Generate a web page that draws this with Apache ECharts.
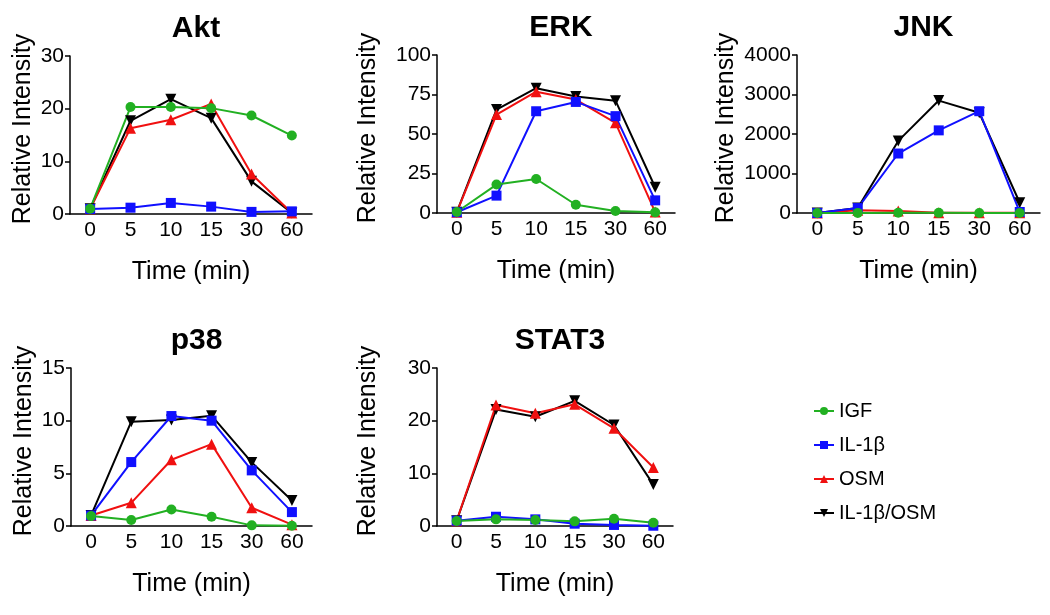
<!DOCTYPE html>
<html>
<head>
<meta charset="utf-8">
<script src="https://cdn.jsdelivr.net/npm/echarts@6/dist/echarts.min.js"></script>
<style>
  html, body { margin: 0; padding: 0; background: #fff; }
  #chart { width: 1050px; height: 615px; }
</style>
</head>
<body>
<div id="chart"></div>
<script>
// time points (min)
var times = ['0', '5', '10', '15', '30', '60'];
var seriesNames = ['IGF', 'IL-1β', 'OSM', 'IL-1β/OSM'];

// Akt
var aktIGF  = [1.0, 20.3, 20.3, 20.1, 18.7, 14.9];
var aktIL1b = [0.95, 1.2, 2.1, 1.4, 0.4, 0.5];
var aktOSM  = [1.0, 16.3, 17.9, 20.9, 7.6, 0.2];
var aktBoth = [1.0, 17.7, 21.8, 18.2, 6.2, 0.2];

// ERK
var erkIGF  = [0.6, 18, 21.5, 5.2, 1.3, 0.4];
var erkIL1b = [0.5, 11, 64.4, 70.3, 61.3, 8];
var erkOSM  = [0.5, 62.3, 76.8, 71.8, 57.1, 0.6];
var erkBoth = [0.5, 65.5, 79, 73.8, 71.1, 16.3];

// JNK
var jnkIGF  = [0, 3, 5, 4, 2, 2];
var jnkIL1b = [0, 125, 1506, 2092, 2577, 25];
var jnkOSM  = [0, 67, 50, 8, 5, 5];
var jnkBoth = [0, 125, 1825, 2846, 2536, 260];

// p38
var p38IGF  = [0.94, 0.57, 1.57, 0.88, 0.06, 0.03];
var p38IL1b = [1.0, 6.07, 10.44, 10.0, 5.28, 1.32];
var p38OSM  = [1.0, 2.2, 6.29, 7.77, 1.73, 0.13];
var p38Both = [1.0, 9.9, 10.06, 10.47, 6.04, 2.42];

// STAT3
var statIGF  = [0.94, 1.26, 1.13, 0.88, 1.38, 0.63];
var statIL1b = [1.0, 1.76, 1.26, 0.44, 0.2, 0.05];
var statOSM  = [1.0, 22.96, 21.4, 23.1, 18.55, 11.1];
var statBoth = [1.0, 22.1, 20.75, 23.77, 19.18, 7.86];

var panels = [
  { title: 'Akt',   max: 30,   interval: 10,   left: 70,  top: 56,  width: 242, nameGap: 34, data: [aktIGF, aktIL1b, aktOSM, aktBoth] },
  { title: 'ERK',   max: 100,  interval: 25,   left: 437, top: 55,  width: 238, nameGap: 56, data: [erkIGF, erkIL1b, erkOSM, erkBoth] },
  { title: 'JNK',   max: 4000, interval: 1000, left: 797, top: 55,  width: 243, nameGap: 58, data: [jnkIGF, jnkIL1b, jnkOSM, jnkBoth] },
  { title: 'p38',   max: 15,   interval: 5,    left: 71,  top: 368, width: 241, nameGap: 34, data: [p38IGF, p38IL1b, p38OSM, p38Both] },
  { title: 'STAT3', max: 30,   interval: 10,   left: 437, top: 368, width: 236, nameGap: 56, data: [statIGF, statIL1b, statOSM, statBoth] }
];

var FONT = 'Liberation Sans, Arial, sans-serif';
var styles = [
  { color: '#22b022', symbol: 'circle', size: 10 },
  { color: '#1010ff', symbol: 'rect', size: 10 },
  { color: '#f01010', symbol: 'triangle', size: 11 },
  { color: '#000000', symbol: 'path://M0,0L10,0L5,9Z', size: 11 }
];

var grids = [], xAxes = [], yAxes = [], titles = [], series = [];
var GRID_H = 158;

panels.forEach(function (p, i) {
  grids.push({ left: p.left, top: p.top, width: p.width, height: GRID_H });
  titles.push({
    text: p.title,
    left: p.left + p.width / 2,
    top: p.top - 47,
    textAlign: 'center',
    textStyle: { fontFamily: FONT, fontSize: 30, fontWeight: 'bold', color: '#000' }
  });
  xAxes.push({
    type: 'category', gridIndex: i, data: times, boundaryGap: true,
    name: 'Time (min)', nameLocation: 'middle', nameGap: 46,
    nameTextStyle: { fontFamily: FONT, fontSize: 25, color: '#000' },
    axisLine: { lineStyle: { color: '#000', width: 1.5 } },
    axisTick: { show: false },
    axisLabel: { fontFamily: FONT, fontSize: 21, color: '#000', margin: 6 },
    splitLine: { show: false }
  });
  yAxes.push({
    type: 'value', gridIndex: i, min: 0, max: p.max, interval: p.interval,
    name: 'Relative Intensity', nameLocation: 'middle', nameGap: p.nameGap,
    // left padding nudges the rotated name a little upwards
    nameTextStyle: { fontFamily: FONT, fontSize: 25, color: '#000', padding: [0, 0, 0, 12] },
    axisLine: { show: true, lineStyle: { color: '#000', width: 1.5 } },
    axisTick: { show: true, length: 5, lineStyle: { color: '#000', width: 1.5 } },
    axisLabel: {
      fontFamily: FONT, fontSize: 21, color: '#000', margin: 6,
      formatter: function (v) { return String(v); }
    },
    splitLine: { show: false }
  });
  // draw black first so green ends up on top
  for (var k = 3; k >= 0; k--) {
    var s = styles[k];
    series.push({
      type: 'line', name: seriesNames[k],
      xAxisIndex: i, yAxisIndex: i,
      data: p.data[k],
      symbol: s.symbol, symbolSize: s.size,
      showAllSymbol: true,
      lineStyle: { color: s.color, width: 2 },
      itemStyle: { color: s.color },
      clip: false
    });
  }
});

var chart = echarts.init(document.getElementById('chart'));
chart.setOption({
  animation: false,
  backgroundColor: '#fff',
  title: titles,
  grid: grids,
  xAxis: xAxes,
  yAxis: yAxes,
  legend: {
    data: seriesNames,
    orient: 'vertical',
    left: 808, top: 396,
    itemWidth: 20, itemHeight: 10, itemGap: 14,
    textStyle: { fontFamily: FONT, fontSize: 20, color: '#000' }
  },
  series: series
});
</script>
</body>
</html>
